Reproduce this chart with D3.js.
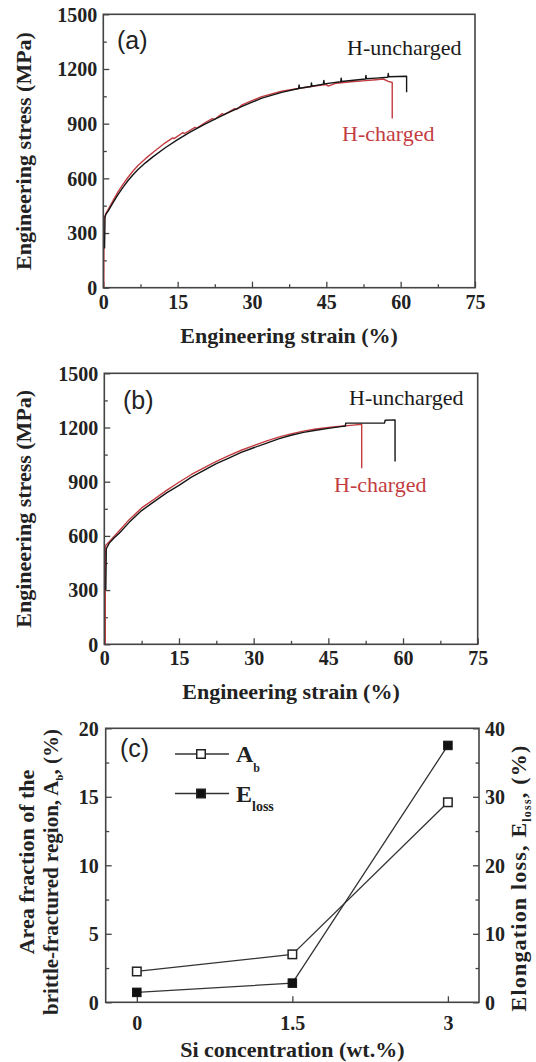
<!DOCTYPE html>
<html>
<head>
<meta charset="utf-8">
<script src="https://cdn.jsdelivr.net/npm/d3@7"></script>
<style>
  html, body { margin: 0; padding: 0; background: #fff; }
  svg { display: block; }
</style>
</head>
<body>
<svg id="fig" width="536" height="1062"></svg>
<script>
// ---- data -------------------------------------------------------------
const strainTicks = [0, 15, 30, 45, 60, 75];
const stressTicks = [0, 300, 600, 900, 1200, 1500];

// (a) engineering stress-strain curves, [strain %, stress MPa]
const aUncharged = [
  [0.25, 215], [0.3, 300], [0.35, 385], [0.5, 402], [1, 422], [2, 468], [3, 512],
  [4, 552], [5, 588], [6, 620], [7, 648], [8.5, 685], [10, 718], [12.5, 768],
  [15, 812], [17.5, 854], [20.5, 898], [25, 958], [28, 995], [32, 1040], [36, 1072],
  [39.4, 1093], [39.5, 1113], [39.6, 1094], [41.9, 1104], [42, 1124], [42.1, 1105],
  [44.4, 1117], [44.5, 1137], [44.6, 1118], [47.9, 1130], [48, 1150], [48.1, 1131],
  [50, 1137], [52.9, 1145], [53, 1165], [53.1, 1146], [55, 1150],
  [57.4, 1155], [57.5, 1175], [57.6, 1157], [61.2, 1160], [61.2, 1072]
];
const aCharged = [
  [0.1, 0], [0.15, 380], [0.5, 405], [1, 430], [2, 480], [3, 527], [4, 568],
  [5, 606], [6, 640], [7, 670], [8.5, 708], [10, 742], [12.5, 795], [14, 822],
  [14.3, 818], [16, 850], [16.4, 846], [18.5, 880], [18.9, 876], [20.5, 905],
  [22, 928], [22.4, 923], [24, 955], [24.4, 950], [26.5, 983], [26.9, 978],
  [28, 1003], [30, 1026], [32, 1048], [36, 1078], [40, 1096], [43, 1108],
  [45, 1114], [45.4, 1106], [47, 1122], [50, 1130], [53, 1136], [55, 1141],
  [56.5, 1145], [57.5, 1132], [58.3, 1126], [58.3, 928]
];

// (b)
const bUncharged = [
  [0.3, 300], [0.4, 530], [1, 560], [2, 590], [3, 615], [5, 675], [7.5, 740],
  [10, 790], [12.5, 838], [15, 880], [17.5, 925], [20, 963], [22.5, 1000],
  [25, 1031], [27.5, 1062], [30, 1088], [32.5, 1112], [35, 1137], [37.5, 1157],
  [40, 1173], [42.5, 1185], [45, 1195], [47.5, 1205], [48.4, 1208], [48.5, 1224],
  [52, 1224], [56.3, 1225], [56.4, 1240], [58.4, 1242], [58.4, 1012]
];
const bCharged = [
  [0.2, 0], [0.2, 545], [1, 568], [2, 598], [3, 628], [5, 690], [7.5, 755],
  [10, 803], [12.5, 852], [15, 897], [17.5, 940], [20, 977], [22.5, 1012],
  [25, 1044], [27.5, 1074], [30, 1100], [32.5, 1125], [35, 1147], [37.5, 1165],
  [40, 1180], [42.5, 1192], [45, 1200], [47.5, 1207], [50, 1213], [51.7, 1218],
  [51.7, 975]
];

// (c) Si concentration dependence
const siConc = [0, 1.5, 3];
const areaFraction = [2.25, 3.5, 14.6];   // A_b (%)
const elongLoss = [1.45, 2.8, 37.5];      // E_loss (%)
const siTicks = [0, 1.5, 3];
const areaTicks = [0, 5, 10, 15, 20];
const lossTicks = [0, 10, 20, 30, 40];

// ---- styling ----------------------------------------------------------
const SERIF = "Liberation Serif, Times New Roman, serif";
const SANS = "Liberation Sans, Arial, sans-serif";
const INK = "#222";
const FRAME = "#444";
const BLACK_CURVE = "#161616";
const RED_CURVE = "#c43c40";
const LABEL_FONT = 20;
const TITLE_FONT = 22;

const svg = d3.select("#fig").attr("font-family", SERIF);

function frame(g, w, h) {
  g.append("rect").attr("x", 0).attr("y", 0).attr("width", w).attr("height", h)
    .attr("fill", "none").attr("stroke", FRAME).attr("stroke-width", 1.6);
}

function styleAxis(sel) {
  sel.attr("font-family", SERIF);
  sel.select(".domain").remove();
  sel.selectAll(".tick line").attr("stroke", FRAME).attr("stroke-width", 1.3);
  sel.selectAll(".tick text").attr("fill", INK)
    .attr("font-family", SERIF)
    .attr("font-weight", "bold").attr("font-size", LABEL_FONT);
}

function minorTicks(major) {
  const out = [];
  for (let i = 0; i < major.length - 1; i++) out.push((major[i] + major[i + 1]) / 2);
  return out;
}

// ---- stress-strain panel ---------------------------------------------
function stressPanel(opt) {
  const w = opt.right - opt.left, h = opt.bottom - opt.top;
  const g = svg.append("g").attr("transform", `translate(${opt.left},${opt.top})`);
  const x = d3.scaleLinear().domain([0, 75]).range([0, w]);
  const y = d3.scaleLinear().domain([0, 1500]).range([h, 0]);

  // minor ticks
  g.append("g").attr("transform", `translate(0,${h})`)
    .call(d3.axisBottom(x).tickValues(minorTicks(strainTicks)).tickFormat("")
      .tickSizeInner(-3.5).tickSizeOuter(0)).call(styleAxis);
  g.append("g")
    .call(d3.axisLeft(y).tickValues(minorTicks(stressTicks)).tickFormat("")
      .tickSizeInner(-3.5).tickSizeOuter(0)).call(styleAxis);

  // major ticks + labels
  g.append("g").attr("transform", `translate(0,${h})`)
    .call(d3.axisBottom(x).tickValues(strainTicks).tickFormat(d3.format("d"))
      .tickSizeInner(-6).tickSizeOuter(0).tickPadding(7)).call(styleAxis);
  const ya = g.append("g")
    .call(d3.axisLeft(y).tickValues(stressTicks).tickFormat(d3.format("d"))
      .tickSizeInner(-6).tickSizeOuter(0).tickPadding(6)).call(styleAxis);
  ya.selectAll(".tick text").attr("dy", "0.34em");

  const line = d3.line().x(d => x(d[0])).y(d => y(d[1])).curve(d3.curveLinear);
  g.append("path").datum(opt.charged).attr("d", line)
    .attr("fill", "none").attr("stroke", RED_CURVE).attr("stroke-width", 1.4)
    .attr("stroke-linejoin", "round");
  g.append("path").datum(opt.uncharged).attr("d", line)
    .attr("fill", "none").attr("stroke", BLACK_CURVE).attr("stroke-width", 1.4)
    .attr("stroke-linejoin", "round");

  frame(g, w, h);

  // annotations
  g.append("text").attr("x", opt.tag[0] - opt.left).attr("y", opt.tag[1] - opt.top)
    .attr("font-family", SANS)
    .attr("font-size", 25).attr("fill", INK).text(opt.tagText);
  g.append("text").attr("x", opt.unLab[0] - opt.left).attr("y", opt.unLab[1] - opt.top)
    .attr("font-family", SERIF)
    .attr("font-size", 22).attr("fill", "#1a1a1a").text("H-uncharged");
  g.append("text").attr("x", opt.chLab[0] - opt.left).attr("y", opt.chLab[1] - opt.top)
    .attr("font-family", SERIF)
    .attr("font-size", 22).attr("fill", RED_CURVE).text("H-charged");

  // axis titles
  svg.append("text").attr("x", (opt.left + opt.right) / 2).attr("y", opt.xTitleY)
    .attr("text-anchor", "middle").attr("font-weight", "bold")
    .attr("font-size", TITLE_FONT).attr("fill", INK).text("Engineering strain (%)");
  svg.append("text")
    .attr("transform", `translate(31,${(opt.top + opt.bottom) / 2}) rotate(-90)`)
    .attr("text-anchor", "middle").attr("font-weight", "bold")
    .attr("font-size", TITLE_FONT).attr("fill", INK).text("Engineering stress (MPa)");
}

stressPanel({
  left: 103.3, right: 475, top: 14.3, bottom: 287.7,
  uncharged: aUncharged, charged: aCharged,
  tag: [117, 49], tagText: "(a)",
  unLab: [347, 55], chLab: [342, 141],
  xTitleY: 343
});
stressPanel({
  left: 104.3, right: 477.7, top: 373.3, bottom: 644.3,
  uncharged: bUncharged, charged: bCharged,
  tag: [123, 409], tagText: "(b)",
  unLab: [349, 405], chLab: [334, 492],
  xTitleY: 699
});

// ---- (c) Si concentration panel --------------------------------------
(function () {
  const left = 105.7, right = 479, top = 728.3, bottom = 1002.3;
  const w = right - left, h = bottom - top;
  const g = svg.append("g").attr("transform", `translate(${left},${top})`);
  const x = d3.scaleLinear().domain([-0.3, 3.3]).range([0, w]);
  const yL = d3.scaleLinear().domain([0, 20]).range([h, 0]);
  const yR = d3.scaleLinear().domain([0, 40]).range([h, 0]);

  g.append("g").call(d3.axisLeft(yL).tickValues(minorTicks(areaTicks)).tickFormat("")
    .tickSizeInner(-3.5).tickSizeOuter(0)).call(styleAxis);
  g.append("g").attr("transform", `translate(${w},0)`)
    .call(d3.axisRight(yR).tickValues(minorTicks(lossTicks)).tickFormat("")
      .tickSizeInner(-3.5).tickSizeOuter(0)).call(styleAxis);

  g.append("g").attr("transform", `translate(0,${h})`)
    .call(d3.axisBottom(x).tickValues(siTicks).tickFormat(d => String(d))
      .tickSizeInner(-6).tickSizeOuter(0).tickPadding(14)).call(styleAxis);
  const yla = g.append("g").call(d3.axisLeft(yL).tickValues(areaTicks)
    .tickFormat(d3.format("d")).tickSizeInner(-6).tickSizeOuter(0).tickPadding(7))
    .call(styleAxis);
  yla.selectAll(".tick text").attr("dy", "0.34em");
  const yra = g.append("g").attr("transform", `translate(${w},0)`)
    .call(d3.axisRight(yR).tickValues(lossTicks).tickFormat(d3.format("d"))
      .tickSizeInner(-6).tickSizeOuter(0).tickPadding(6)).call(styleAxis);
  yra.selectAll(".tick text").attr("dy", "0.34em");

  const areaPts = siConc.map((s, i) => [x(s), yL(areaFraction[i])]);
  const lossPts = siConc.map((s, i) => [x(s), yR(elongLoss[i])]);
  const ln = d3.line();
  g.append("path").attr("d", ln(areaPts)).attr("fill", "none")
    .attr("stroke", "#333").attr("stroke-width", 1.3);
  g.append("path").attr("d", ln(lossPts)).attr("fill", "none")
    .attr("stroke", "#333").attr("stroke-width", 1.3);

  const S = 8.5;
  g.selectAll(".sq-open").data(areaPts).join("rect").attr("class", "sq-open")
    .attr("x", d => d[0] - S / 2).attr("y", d => d[1] - S / 2)
    .attr("width", S).attr("height", S)
    .attr("fill", "#fff").attr("stroke", "#222").attr("stroke-width", 1.5);
  g.selectAll(".sq-fill").data(lossPts).join("rect").attr("class", "sq-fill")
    .attr("x", d => d[0] - S / 2).attr("y", d => d[1] - S / 2)
    .attr("width", S).attr("height", S)
    .attr("fill", "#111").attr("stroke", "#111").attr("stroke-width", 1);

  frame(g, w, h);

  // panel tag
  svg.append("text").attr("x", 120).attr("y", 757)
    .attr("font-family", SANS)
    .attr("font-size", 25).attr("fill", INK).text("(c)");

  // legend
  const legend = [
    { y: 754, fill: "#fff", main: "A", sub: "b", subSize: 12, subDy: 10 },
    { y: 793.5, fill: "#111", main: "E", sub: "loss", subSize: 14, subDy: 9.5 }
  ];
  const lg = svg.append("g");
  legend.forEach(d => {
    lg.append("line").attr("x1", 175).attr("x2", 229).attr("y1", d.y).attr("y2", d.y)
      .attr("stroke", "#333").attr("stroke-width", 1.3);
    lg.append("rect").attr("x", 201 - S / 2).attr("y", d.y - S / 2)
      .attr("width", S).attr("height", S)
      .attr("fill", d.fill).attr("stroke", "#222").attr("stroke-width", 1.5);
    const t = lg.append("text").attr("x", 236).attr("y", d.y + 8)
      .attr("font-weight", "bold").attr("font-size", 24).attr("fill", INK).text(d.main);
    t.append("tspan").attr("dy", d.subDy).attr("font-size", d.subSize).text(d.sub);
  });

  // axis titles
  svg.append("text").attr("x", (left + right) / 2).attr("y", 1057)
    .attr("text-anchor", "middle").attr("font-weight", "bold")
    .attr("font-size", TITLE_FONT).attr("fill", INK).text("Si concentration (wt.%)");

  svg.append("text").attr("transform", "translate(34,862) rotate(-90)")
    .attr("text-anchor", "middle").attr("font-weight", "bold")
    .attr("font-size", TITLE_FONT).attr("fill", INK).text("Area fraction of the");
  const l2 = svg.append("text").attr("transform", "translate(58,872) rotate(-90)")
    .attr("text-anchor", "middle").attr("font-weight", "bold")
    .attr("font-size", 21).attr("fill", INK);
  l2.append("tspan").text("brittle-fractured region, A");
  l2.append("tspan").attr("font-size", 11).attr("dy", 5).text("b");
  l2.append("tspan").attr("dy", -5).text(", (%)");

  const rt = svg.append("text").attr("transform", "translate(526,878) rotate(-90)")
    .attr("text-anchor", "middle").attr("font-weight", "bold")
    .attr("font-size", TITLE_FONT).attr("letter-spacing", 1.2).attr("fill", INK);
  rt.append("tspan").text("Elongation loss, E");
  rt.append("tspan").attr("font-size", 12).attr("dy", 5).text("loss");
  rt.append("tspan").attr("dy", -5).text(", (%)");
})();
</script>
</body>
</html>
